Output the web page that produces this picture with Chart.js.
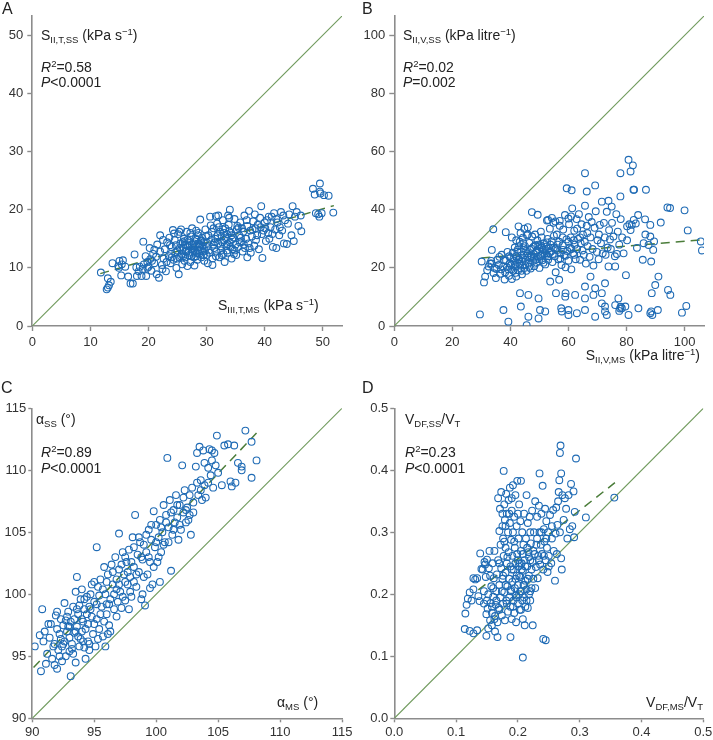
<!DOCTYPE html>
<html>
<head>
<meta charset="utf-8">
<script src="https://cdn.jsdelivr.net/npm/chart.js@4"></script>
<style>
  html,body{margin:0;padding:0;background:#fff;}
  #wrap{position:relative;width:713px;height:740px;overflow:hidden;font-family:"Liberation Sans",Arial,Helvetica,sans-serif;color:#222;}
  canvas{position:absolute;}
  .t{position:absolute;font-size:14px;line-height:16px;white-space:nowrap;}
  .lab{position:absolute;font-size:16px;line-height:18px;}
  .sb{font-size:9.5px;position:relative;top:3px;}
  .sp{font-size:9.5px;position:relative;top:-5px;}
  i{font-style:italic;}
</style>
</head>
<body>
<div id="wrap">
  <canvas id="cA" width="356" height="360" style="left:0;top:0"></canvas>
  <canvas id="cB" width="357" height="360" style="left:356px;top:0"></canvas>
  <canvas id="cC" width="356" height="380" style="left:0;top:360px"></canvas>
  <canvas id="cD" width="357" height="380" style="left:356px;top:360px"></canvas>

  <div class="lab" style="left:2px;top:0px">A</div>
  <div class="lab" style="left:362px;top:0px">B</div>
  <div class="lab" style="left:1px;top:379px">C</div>
  <div class="lab" style="left:362px;top:379px">D</div>

  <div class="t" style="left:41px;top:27px">S<span class="sb">II,T,SS</span> (kPa s<span class="sp">−1</span>)</div>
  <div class="t" style="left:41px;top:59px"><i>R</i><span class="sp">2</span>=0.58</div>
  <div class="t" style="left:41px;top:74px"><i>P</i>&lt;0.0001</div>
  <div class="t" style="left:218px;top:297px">S<span class="sb">III,T,MS</span> (kPa s<span class="sp">−1</span>)</div>

  <div class="t" style="left:403px;top:27px">S<span class="sb">II,V,SS</span> (kPa litre<span class="sp">−1</span>)</div>
  <div class="t" style="left:403px;top:59px"><i>R</i><span class="sp">2</span>=0.02</div>
  <div class="t" style="left:403px;top:74px"><i>P</i>=0.002</div>
  <div class="t" style="right:13px;top:347px">S<span class="sb">II,V,MS</span> (kPa litre<span class="sp">−1</span>)</div>

  <div class="t" style="left:36px;top:411px">α<span class="sb">SS</span> (°)</div>
  <div class="t" style="left:41px;top:444px"><i>R</i><span class="sp">2</span>=0.89</div>
  <div class="t" style="left:41px;top:460px"><i>P</i>&lt;0.0001</div>
  <div class="t" style="left:277px;top:694px">α<span class="sb">MS</span> (°)</div>

  <div class="t" style="left:405px;top:411px">V<span class="sb">DF,SS</span>/V<span class="sb">T</span></div>
  <div class="t" style="left:405px;top:444px"><i>R</i><span class="sp">2</span>=0.23</div>
  <div class="t" style="left:405px;top:460px"><i>P</i>&lt;0.0001</div>
  <div class="t" style="right:10px;top:694px">V<span class="sb">DF,MS</span>/V<span class="sb">T</span></div>
</div>
<script>
// ---------------- DATA ----------------
// Panel A: [S_III,T,MS, S_II,T,SS]
const pointsA = [[11.8,9.2],[12.8,6.3],[13.0,6.6],[13.2,7.0],[13.5,7.6],[13.0,8.2],[13.8,10.8],[14.8,10.3],[15.0,11.2],[15.4,10.6],[15.6,11.3],[14.9,10.0],[16.0,10.2],[15.3,8.7],[16.5,8.5],[16.9,7.3],[17.3,7.3],[17.6,12.3],[18.0,8.6],[18.8,8.6],[19.6,8.6],[18.5,10.2],[19.0,9.8],[19.2,10.6],[19.1,14.5],[19.8,11.0],[19.5,12.0],[20.0,10.2],[20.3,11.5],[20.5,9.5],[20.2,13.4],[20.8,12.4],[21.0,10.8],[21.3,11.9],[21.5,14.0],[21.4,8.9],[21.8,8.3],[22.0,12.8],[22.3,10.5],[22.0,15.6],[22.6,11.6],[22.8,13.2],[23.0,9.4],[23.2,14.4],[23.5,12.0],[23.6,15.2],[23.8,10.8],[24.0,13.6],[24.2,16.5],[24.3,11.4],[24.5,14.8],[24.6,12.6],[24.8,10.0],[25.0,13.0],[25.1,15.8],[25.2,8.9],[25.3,11.8],[25.5,14.2],[25.6,16.6],[25.7,12.4],[25.8,10.6],[26.0,13.5],[26.1,15.0],[26.2,11.2],[26.3,14.0],[26.5,12.8],[26.6,16.2],[26.7,10.3],[26.8,13.8],[27.0,12.2],[27.0,14.6],[27.2,11.0],[27.3,15.4],[27.4,13.2],[27.5,16.8],[27.6,12.6],[27.8,14.2],[27.9,10.4],[28.0,13.6],[28.1,15.0],[28.2,12.0],[28.3,14.8],[28.4,11.4],[28.5,13.0],[28.6,16.0],[28.7,12.4],[28.8,14.0],[28.9,18.3],[29.0,13.2],[29.1,11.8],[29.2,15.2],[29.4,12.8],[29.5,14.4],[29.6,11.2],[29.8,16.6],[30.0,13.6],[30.2,10.8],[30.3,15.6],[30.5,12.6],[30.6,18.8],[30.8,14.8],[31.0,11.6],[31.0,10.5],[31.2,16.8],[31.3,13.4],[31.5,15.0],[31.6,12.0],[31.8,17.6],[32.0,14.2],[32.0,19.0],[32.2,11.8],[32.3,16.2],[32.5,13.0],[32.6,15.4],[32.8,18.2],[32.9,12.4],[33.0,14.8],[33.1,11.0],[33.2,16.8],[33.4,13.8],[33.5,15.8],[33.6,12.6],[33.8,17.4],[34.0,14.4],[34.0,20.0],[34.2,16.0],[34.3,11.6],[34.5,13.2],[34.6,15.2],[34.8,18.4],[35.0,14.0],[35.1,12.2],[35.2,16.6],[35.4,13.6],[35.6,15.6],[35.8,17.8],[36.0,14.6],[36.2,12.8],[36.3,16.2],[36.5,19.0],[36.6,13.4],[36.8,15.0],[37.0,11.8],[37.0,17.2],[37.2,14.2],[37.3,19.8],[37.5,16.4],[37.6,12.6],[37.8,15.4],[38.0,18.0],[38.2,13.8],[38.4,16.8],[38.5,14.8],[38.8,17.4],[39.0,13.2],[39.2,18.6],[39.4,20.6],[39.5,15.8],[39.6,11.7],[39.8,16.4],[40.0,17.8],[40.2,14.6],[40.4,18.2],[40.6,16.0],[40.8,15.0],[41.0,17.0],[41.2,18.8],[41.4,13.6],[41.6,19.4],[41.8,16.6],[42.0,13.4],[42.2,17.8],[42.5,15.6],[42.8,19.6],[43.0,16.4],[43.3,14.2],[43.5,18.2],[43.8,14.1],[44.2,19.2],[44.6,15.6],[44.8,20.6],[45.0,14.6],[45.2,18.8],[45.8,17.2],[46.2,19.0],[46.3,16.3],[48.3,23.6],[48.6,22.6],[48.8,19.4],[49.2,19.2],[49.5,24.5],[49.5,23.1],[49.6,22.8],[49.4,18.8],[49.8,19.4],[50.2,22.5],[51.0,22.4],[51.8,19.5],[25.4,13.4],[25.9,14.4],[26.4,13.0],[26.9,12.6],[27.1,13.9],[27.7,13.4],[28.3,12.6],[28.6,14.2],[29.3,13.8],[26.2,14.6],[27.4,12.0],[28.8,12.9],[24.7,13.9],[25.6,12.0],[29.7,13.0],[30.1,14.3],[33.3,15.1],[32.7,14.4],[33.9,16.3],[34.4,14.9],[31.9,15.6],[32.4,13.7],[34.8,13.0],[33.6,14.1],[35.5,16.9],
[22.5,14.8],[23.1,11.0],[23.9,12.4],[24.4,15.9],[24.9,11.6],[25.3,16.2],[25.8,13.0],[26.3,11.8],[26.7,14.8],[27.2,16.0],[27.8,11.8],[28.2,16.4],[28.7,13.6],[29.1,14.7],[29.5,12.2],[29.9,15.4],[30.4,13.0],[30.9,16.2],[31.4,14.4],[31.7,12.8],[32.1,17.0],[32.6,12.2],[33.0,16.0],[33.5,13.0],[33.9,18.6],[34.3,15.6],[34.7,12.4],[35.3,17.2],[35.7,14.4],[36.1,16.8],[36.4,14.0],[36.9,18.2],[37.4,13.4],[37.9,16.6],[38.3,19.2],[38.7,15.6],[39.3,17.0],[40.1,16.8],[40.7,18.8],[41.3,15.8],[42.0,18.4],[42.6,17.0],[43.2,19.0],[44.0,17.6],[45.5,19.6],[24.0,11.8],[26.0,12.0],[27.5,14.0],[28.0,12.8],[28.5,15.6],[29.0,14.6],[30.0,12.2],[31.2,14.0],[32.8,16.6],[34.1,13.6],[35.9,15.2],[21.0,13.1],[22.4,9.8],[23.7,13.9],[19.8,10.0],[20.6,11.2],[18.3,9.4],[17.9,10.1],[31.6,18.9],[33.7,19.0],[30.7,17.3]];
const fitA = [[11.7,9.0],[51.9,20.7]];
const ticksA = [0,10,20,30,40,50];

// Panel B: [S_II,V,MS, S_II,V,SS]
const pointsB = [[29.5,4],[30.1,22.2],[30.9,15],[31.3,17],[32,19.2],[32.5,20.5],[33,21.5],[33.4,22.4],[34.1,33.3],[33.6,26.2],[37.6,5.5],[39.3,1.5],[38.4,32.3],[42.8,34.3],[43.6,6.7],[43.3,11.3],[46.2,10.7],[46.2,3.2],[45.6,0.3],[47.4,39.2],[49.4,38.3],[49.7,9.5],[49.7,2.6],[50.2,5.5],[52,5],[52.6,36.3],[53.7,15.3],[54.3,37.2],[55.7,11.3],[56.8,15.9],[57.5,6.1],[57.7,5],[59,11.3],[58.9,10.1],[59.4,47.4],[60.9,37.7],[61.1,46.7],[60,3.8],[60,5.5],[62.3,10.7],[62.9,4.4],[65.7,52.6],[66.3,46.3],[65.7,41.4],[69.2,48.4],[65.7,13.6],[65.7,9.5],[65.7,5.5],[67.6,17],[69.2,3.2],[69.2,13],[68.6,10.7],[71.5,11.3],[71.5,7.8],[72.6,6.7],[72.6,14.7],[72.6,5],[73.2,3.8],[73.8,20.5],[73.8,43.1],[74.9,41.1],[76.1,20.5],[76.1,7.2],[76.7,24.8],[77.2,9.5],[77.5,5.2],[77.8,6.0],[78,6.6],[77.9,52.6],[77.9,44.6],[78.4,6.1],[79.6,6.7],[79.8,17.5],[80.7,3.8],[80.2,34.3],[80.7,57.2],[81.4,53.2],[82.2,55.3],[82.4,46.9],[82.6,46.9],[81.4,33],[81.8,34.8],[83.2,35.3],[83.6,26.9],[84.1,6.1],[85.6,22.8],[85.9,28.5],[86.4,36.7],[86.7,46.9],[87.6,27.9],[88.2,30.8],[88.2,34.8],[88.5,22.2],[88.7,11.3],[88.2,4.4],[88.5,5],[88.9,3.8],[89.2,26.2],[89.5,29.1],[89.9,14.1],[90.8,5.5],[91,17],[91.8,35.6],[94.1,40.8],[95,40.6],[94.3,12.4],[95.1,10.7],[99.1,4.6],[100,39.8],[100.6,6.9],[101.1,32.9],[105.6,29.1],[106,26],
[33.5,21.5],[34.5,20.0],[35,16.5],[35.5,22.8],[36,21],[36.5,18],[37,24.5],[37.5,20.5],[38,16],[38.5,22.5],[39,25.5],[39.2,19.5],[39.5,17.3],[40,23.5],[40.2,21],[40.5,16.2],[40.8,25.2],[41,19],[41.2,22.4],[41.5,27],[41.7,20.5],[42,24],[42,17],[42.3,21.8],[42.5,26.3],[42.7,19.2],[43,23],[43.2,29],[43.4,20.8],[43.7,25.5],[44,22.2],[44,17.8],[44.3,30.4],[44.6,24.3],[44.8,20],[45,27.5],[45.2,22.8],[45.5,19],[45.7,31.2],[46,25],[46.2,21.5],[46.5,28.6],[46.8,23.5],[47,19.8],[47.2,26.6],[47.5,30.8],[47.8,22.4],[48,24.8],[48.2,20.6],[48.5,27.8],[48.8,25.3],[49,21.8],[49.3,29.5],[49.5,23.8],[49.8,26.5],[50,20],[50.2,27.8],[50.5,24.2],[50.8,30.5],[51,22.6],[51.2,26.2],[51.5,28.5],[51.8,25],[52,21.2],[52.3,27.3],[52.5,24.5],[52.8,30],[53,22.8],[53.3,26.8],[53.6,33.5],[54,25.6],[54.2,29.2],[54.5,22],[54.8,35.5],[55,27],[55.3,24],[55.6,18.5],[56,31.5],[56.2,26.2],[56.5,23],[56.8,29],[57,36.2],[57.3,25],[57.6,21],[58,27.8],[58.2,33.2],[58.5,24.4],[58.8,38.2],[59,20.2],[59.3,29.8],[59.6,25.8],[60,22.5],[60.2,35],[60.5,27],[60.8,30.5],[61,19.5],[61.3,40.5],[61.6,25],[62,32.8],[62.2,28],[62.5,23],[62.8,36.8],[63,26.5],[63.3,30],[63.6,38.5],[64,22.8],[64.2,28.5],[64.5,35],[64.8,26],[65,31.5],[65.3,24.5],[65.6,29],[66,21.5],[66.3,34.5],[66.6,27.5],[67,37.5],[67.3,23.8],[67.6,30.5],[68,35.8],[68.3,26.5],[68.6,20.8],[69,33.8],[69.4,39.5],[69.8,25.5],[70,29.5],[70.4,23],[70.8,34.8],[71.2,28.5],[71.5,42.8],[71.8,25],[72.2,35.5],[72.5,30.5],[72.8,24.5],[73.2,39.3],[73.5,27],[74,33],[74.3,29.8],[74.6,26.5],[75,35.5],[75.5,30.8],[76,24],[76.5,38.5],[77,32.5],[77.5,28],[78,36.8],[78.5,30.5],[79,25],[80.2,29.5],[81,35],[82.5,36.5],[84,38.2],[86.5,31.5],[40.5,30.5],[43.5,32],[46,34],[44.8,33.5],[48.5,31.5],[53,36.5],[55.5,36],[57,34.5],[60,37],
[36.8,19.5],[37.8,22.8],[38.8,20.2],[39.6,24.0],[40.4,19.5],[41.1,23.2],[41.8,18.3],[42.4,25.6],[43.1,21.5],[43.8,19.0],[44.5,26.8],[45.1,21.0],[45.8,24.2],[46.5,20.4],[47.3,24.0],[47.9,27.2],[48.6,22.8],[49.2,26.0],[50.0,23.0],[50.7,27.0],[51.4,21.8],[52.1,25.8],[52.9,24.0],[53.8,28.0],[54.6,24.8],[55.4,26.6],[56.3,28.0],[57.2,23.2],[58.1,26.2],[59.0,24.2],[60.0,29.0],[61.0,26.5],[62.0,24.5],[63.0,33.5],[64.0,30.5],[39.8,21.5],[41.5,21.0],[42.8,22.8],[44.2,23.5],[45.4,25.8],[46.8,26.2],[48.2,23.5],[49.6,28.0],[51.0,24.5],[52.6,28.8],[53.5,25.2],[38.2,18.5],[36.2,23.8],[35.2,19.6],[34.2,18.2],[43,27.5],[44.5,28.5],[42,29.5],[46,31.5],[50.5,32.5],[55,31],[58,30.5],[61.8,29.5],[66.5,32],[70.5,31.5]];
const fitB = [[30,23.4],[106.6,29.7]];
const ticksB = [0,20,40,60,80,100];

// Panel C: [alpha_MS, alpha_SS]
const pointsC = [[90.2,95.8],[90.7,93.8],[90.8,98.8],[90.6,96.7],[91.0,97.0],[91.2,95.2],[91.4,96.5],[91.5,97.6],[91.6,94.8],[91.8,94.3],[91.8,96.0],[91.9,98.3],[92.0,97.2],[92.1,95.5],[92.2,96.8],[92.3,98.0],[92.4,94.6],[92.5,97.5],[92.6,96.2],[92.6,99.3],[92.7,95.0],[92.8,97.0],[92.9,98.6],[93.0,96.5],[93.1,93.4],[93.1,97.8],[93.2,95.6],[93.3,99.0],[93.4,96.9],[93.5,100.2],[93.5,94.5],[93.6,101.4],[93.6,97.4],[93.7,98.4],[93.8,95.8],[93.9,99.6],[94.0,97.0],[94.0,100.4],[94.1,96.2],[94.2,98.8],[94.3,94.8],[94.4,99.8],[94.5,97.6],[94.6,95.5],[94.7,100.0],[94.8,98.2],[94.9,96.8],[95.0,99.4],[95.0,101.0],[95.1,95.8],[95.2,103.8],[95.2,98.0],[95.3,100.6],[95.4,97.2],[95.5,101.2],[95.6,99.0],[95.7,96.6],[95.8,102.2],[95.9,100.0],[96.0,98.4],[96.1,101.6],[96.2,97.5],[96.3,99.6],[96.4,102.4],[96.5,100.8],[96.6,98.8],[96.7,103.0],[96.8,101.2],[96.9,99.4],[97.0,104.9],[97.0,102.0],[97.1,100.2],[97.2,98.9],[97.3,103.4],[97.4,101.6],[97.5,99.5],[97.6,102.6],[97.7,100.8],[97.8,103.6],[97.9,101.4],[98.0,99.8],[98.1,104.6],[98.2,102.2],[98.3,106.4],[98.4,100.6],[98.5,103.2],[98.6,101.8],[98.7,104.2],[98.8,99.6],[98.9,102.8],[99.0,104.0],[99.1,99.1],[99.2,103.4],[99.3,101.6],[99.4,105.2],[99.5,102.6],[99.6,104.4],[99.7,100.8],[99.8,106.7],[99.9,103.8],[100.0,105.6],[100.1,102.6],[100.2,104.6],[100.3,106.0],[100.4,103.4],[100.5,105.0],[100.6,107.2],[100.7,104.2],[100.8,106.4],[100.9,111.0],[101.0,105.4],[101.1,107.6],[101.2,101.9],[101.3,104.8],[101.4,106.8],[101.5,105.8],[101.6,108.0],[101.7,106.2],[101.8,104.4],[101.9,107.2],[102.0,105.2],[102.1,110.4],[102.2,106.6],[102.3,108.4],[102.4,105.8],[102.5,107.0],[102.6,106.0],[102.7,106.4],[102.8,104.8],[102.9,108.6],[103.0,107.4],[103.2,110.3],[103.3,111.4],[103.4,108.0],[103.5,111.9],[103.6,109.2],[103.7,107.6],[103.8,111.6],[103.9,108.8],[104.0,107.8],[104.2,110.2],[104.3,111.7],[104.4,109.6],[104.5,110.8],[104.6,108.6],[104.7,111.4],[104.9,112.8],[105.0,109.8],[105.3,108.8],[105.5,112.0],[105.8,112.1],[106.0,109.1],[106.1,108.7],[106.3,112.0],[106.4,109.0],[106.6,110.6],[106.9,110.3],[106.9,110.0],[107.2,113.2],[107.7,109.4],[107.7,112.3],[108.1,110.8],[92.3,96.4],[92.9,97.4],[93.2,96.0],[93.4,98.0],[93.7,96.6],[94.1,97.8],[94.4,98.4],[92.7,97.9],[93.0,95.4],[94.6,99.0],[95.4,99.9],[96.0,99.2],[96.8,100.4],[97.5,101.0],[98.2,101.0],[94.2,95.7],[92.4,95.8],[93.8,99.1],
[90.9,96.2],[91.3,97.6],[91.7,95.8],[92.0,98.6],[92.2,95.0],[92.5,96.0],[92.8,98.2],[93.0,97.4],[93.3,95.2],[93.5,97.0],[93.6,98.8],[93.9,96.4],[94.0,98.0],[94.2,99.6],[94.3,97.2],[94.5,96.2],[94.7,98.8],[94.8,100.8],[95.0,97.6],[95.2,99.2],[95.3,96.4],[95.5,98.4],[95.7,100.4],[95.8,97.8],[96.0,101.0],[96.2,99.2],[96.3,97.0],[96.5,101.8],[96.6,100.0],[96.8,98.2],[97.0,100.8],[97.2,102.4],[97.3,99.8],[97.5,103.0],[97.7,101.8],[97.9,100.2],[98.0,102.6],[98.2,103.8],[98.4,101.6],[98.6,104.6],[98.8,103.0],[99.0,101.4],[99.2,104.8],[99.4,103.0],[99.6,105.6],[99.8,102.2],[100.0,104.2],[100.2,103.0],[100.4,105.4],[100.6,104.0],[100.8,105.8],[101.0,104.2],[101.2,106.6],[101.4,105.2],[101.7,107.2],[101.9,105.6],[102.2,107.8],[102.4,106.8],[102.7,108.0],[103.0,106.6],[103.3,109.0],[103.6,108.4],[103.9,110.6],[104.2,109.0],[104.5,111.6],[104.8,110.4],[100.3,101.0],[96.1,96.8],[98.9,100.0],[91.1,94.4],[92.0,94.0],[94.6,96.0],[95.9,95.8],[97.8,98.8],[99.5,100.5]];
const fitC = [[90.1,94.1],[108.1,113.0]];
const ticksC = [90,95,100,105,110,115];

// Panel D: [VDF,MS/VT, VDF,SS/VT]
const pointsD = [[0.114,0.144],[0.122,0.141],[0.128,0.137],[0.134,0.142],[0.149,0.133],[0.152,0.145],[0.158,0.150],[0.167,0.131],[0.188,0.131],[0.208,0.098],[0.211,0.150],[0.224,0.150],[0.241,0.128],[0.245,0.126],[0.115,0.169],[0.117,0.183],[0.119,0.193],[0.122,0.203],[0.125,0.190],[0.128,0.208],[0.128,0.226],[0.131,0.224],[0.134,0.226],[0.136,0.197],[0.138,0.189],[0.139,0.266],[0.141,0.241],[0.143,0.240],[0.145,0.185],[0.146,0.252],[0.147,0.248],[0.148,0.228],[0.149,0.168],[0.150,0.256],[0.151,0.177],[0.152,0.200],[0.153,0.242],[0.154,0.270],[0.155,0.158],[0.156,0.186],[0.157,0.213],[0.158,0.170],[0.159,0.250],[0.160,0.196],[0.161,0.226],[0.162,0.160],[0.162,0.270],[0.163,0.140],[0.164,0.183],[0.165,0.205],[0.166,0.232],[0.167,0.155],[0.168,0.355],[0.168,0.255],[0.169,0.178],[0.170,0.302],[0.170,0.215],[0.171,0.338],[0.172,0.280],[0.172,0.195],[0.173,0.365],[0.173,0.242],[0.174,0.166],[0.175,0.310],[0.175,0.225],[0.176,0.290],[0.176,0.185],[0.177,0.399],[0.177,0.262],[0.178,0.345],[0.178,0.203],[0.179,0.320],[0.179,0.158],[0.180,0.275],[0.180,0.235],[0.181,0.362],[0.181,0.190],[0.182,0.330],[0.182,0.250],[0.183,0.213],[0.184,0.300],[0.184,0.172],[0.185,0.352],[0.185,0.268],[0.186,0.225],[0.186,0.195],[0.187,0.372],[0.187,0.315],[0.188,0.245],[0.188,0.180],[0.189,0.288],[0.189,0.207],[0.190,0.335],[0.190,0.160],[0.191,0.262],[0.191,0.220],[0.192,0.376],[0.192,0.300],[0.193,0.190],[0.193,0.240],[0.194,0.325],[0.194,0.170],[0.195,0.275],[0.195,0.210],[0.196,0.360],[0.196,0.250],[0.197,0.198],[0.197,0.155],[0.198,0.310],[0.198,0.230],[0.199,0.383],[0.199,0.265],[0.200,0.185],[0.200,0.215],[0.201,0.290],[0.201,0.245],[0.202,0.345],[0.202,0.200],[0.203,0.250],[0.203,0.175],[0.204,0.318],[0.204,0.228],[0.205,0.383],[0.205,0.270],[0.206,0.205],[0.206,0.250],[0.207,0.190],[0.207,0.300],[0.208,0.238],[0.208,0.160],[0.209,0.280],[0.209,0.215],[0.210,0.330],[0.210,0.195],[0.211,0.255],[0.212,0.222],[0.212,0.180],[0.213,0.290],[0.214,0.360],[0.214,0.208],[0.215,0.245],[0.216,0.315],[0.216,0.178],[0.217,0.268],[0.218,0.200],[0.218,0.230],[0.219,0.325],[0.220,0.190],[0.220,0.255],[0.221,0.282],[0.222,0.210],[0.223,0.335],[0.224,0.252],[0.225,0.225],[0.226,0.300],[0.227,0.265],[0.228,0.350],[0.229,0.244],[0.230,0.280],[0.231,0.325],[0.232,0.226],[0.233,0.262],[0.234,0.343],[0.235,0.395],[0.235,0.300],[0.236,0.248],[0.237,0.280],[0.238,0.330],[0.239,0.265],[0.240,0.375],[0.241,0.240],[0.242,0.305],[0.243,0.285],[0.244,0.338],[0.245,0.255],[0.246,0.318],[0.247,0.275],[0.248,0.236],[0.249,0.300],[0.250,0.262],[0.252,0.328],[0.254,0.250],[0.255,0.290],[0.257,0.336],[0.258,0.270],[0.260,0.222],[0.261,0.298],[0.262,0.340],[0.263,0.265],[0.264,0.312],[0.265,0.350],[0.266,0.365],[0.267,0.384],[0.268,0.428],[0.268,0.300],[0.269,0.440],[0.270,0.395],[0.270,0.258],[0.271,0.240],[0.272,0.360],[0.274,0.320],[0.276,0.355],[0.278,0.338],[0.280,0.290],[0.282,0.360],[0.284,0.305],[0.286,0.378],[0.288,0.310],[0.290,0.366],[0.291,0.292],[0.292,0.333],[0.294,0.419],[0.310,0.324],[0.356,0.356],
[0.165,0.190],[0.170,0.250],[0.174,0.205],[0.178,0.285],[0.180,0.215],[0.183,0.260],[0.186,0.330],[0.188,0.205],[0.190,0.240],[0.192,0.180],[0.194,0.285],[0.196,0.225],[0.198,0.195],[0.200,0.255],[0.202,0.230],[0.204,0.205],[0.206,0.240],[0.208,0.265],[0.210,0.215],[0.212,0.245],[0.214,0.190],[0.216,0.225],[0.218,0.260],[0.220,0.205],[0.222,0.240],[0.225,0.270],[0.228,0.210],[0.231,0.290],[0.234,0.255],[0.238,0.300],[0.242,0.262],[0.246,0.290],[0.250,0.245],[0.255,0.310],[0.170,0.175],[0.176,0.230],[0.182,0.185],[0.158,0.180],[0.160,0.210],[0.163,0.165],[0.150,0.190],[0.145,0.205],[0.155,0.230],[0.205,0.175],[0.215,0.275],[0.220,0.300],[0.175,0.330],[0.180,0.310],[0.190,0.355],[0.200,0.330]];
const fitD = [[0.136,0.207],[0.357,0.380]];
const ticksD = [0.0,0.1,0.2,0.3,0.4,0.5];

// ---------------- STYLE ----------------
const BLUE = '#1f6bb5';
const GREEN_ID = '#6f9a5c';
const GREEN_FIT = '#4b7d3a';
const AXIS = '#8c8c8c';

function makePanel(id, pts, fit, ticks, range, geom, fmt) {
  const [mn, mx] = range;
  const toXY = a => a.map(p => ({x: p[0], y: p[1]}));
  const axisCommon = (isX) => ({
    type: 'linear',
    min: mn, max: mx,
    afterBuildTicks: s => { s.ticks = ticks.map(v => ({value: v})); },
    afterFit: s => {
      if (isX) { s.height = geom.xh; } else { s.width = geom.yw; }
      s.paddingLeft = 0; s.paddingRight = 0; s.paddingTop = 0; s.paddingBottom = 0;
    },
    border: {display: true, color: AXIS, width: 1.6},
    grid: {display: true, drawOnChartArea: false, drawTicks: true, tickLength: geom.tl, tickColor: AXIS, tickWidth: 1.4},
    ticks: {
      color: '#333', padding: geom.tp,
      font: {family: '"Liberation Sans", Arial, Helvetica, sans-serif', size: 13},
      callback: v => fmt(v), autoSkip: false, maxRotation: 0, includeBounds: false
    }
  });
  return new Chart(document.getElementById(id), {
    type: 'scatter',
    data: {
      datasets: [
        {data: toXY(pts), pointRadius: 3.4, pointHoverRadius: 3.4, borderColor: BLUE, borderWidth: 1.1, backgroundColor: 'rgba(0,0,0,0)', pointStyle: 'circle'},
        {data: toXY(fit), showLine: true, pointRadius: 0, borderColor: GREEN_FIT, borderWidth: 1.5, borderDash: [9, 6], fill: false},
        {data: [{x: mn, y: mn}, {x: mx, y: mx}], showLine: true, pointRadius: 0, borderColor: GREEN_ID, borderWidth: 1.1, fill: false}
      ]
    },
    options: {
      responsive: false, animation: false, devicePixelRatio: 1,
      layout: {padding: {left: 0, top: geom.pt, right: geom.pr, bottom: 0}},
      plugins: {legend: {display: false}, tooltip: {enabled: false}},
      scales: {x: axisCommon(true), y: axisCommon(false)}
    }
  });
}

const intFmt = v => String(Math.round(v));
const decFmt = v => v.toFixed(1);

makePanel('cA', pointsA, fitA, ticksA, [0, 53.3], {yw: 32.3, xh: 34, pt: 16, pr: 14, tl: 5, tp: 4}, intFmt);
makePanel('cB', pointsB, fitB, ticksB, [0, 106.7], {yw: 38.3, xh: 34, pt: 16, pr: 9, tl: 5, tp: 4}, intFmt);
makePanel('cC', pointsC, fitC, ticksC, [90, 115], {yw: 32.3, xh: 21.7, pt: 48.3, pr: 14, tl: 4, tp: 2}, intFmt);
makePanel('cD', pointsD, fitD, ticksD, [0, 0.5], {yw: 38.3, xh: 21.7, pt: 48.3, pr: 9.7, tl: 4, tp: 2}, decFmt);
</script>
</body>
</html>
